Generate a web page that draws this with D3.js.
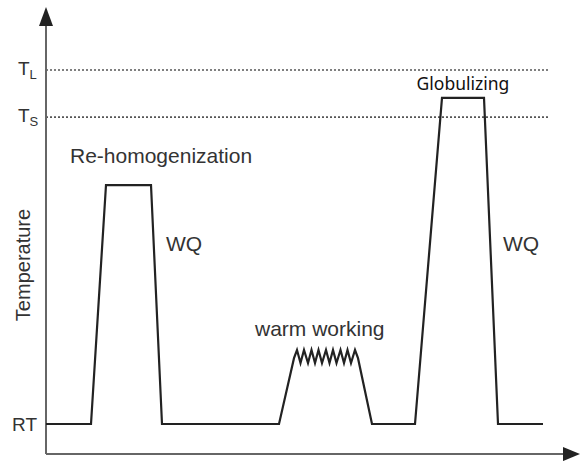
<!DOCTYPE html>
<html>
<head>
<meta charset="utf-8">
<script src="https://cdn.jsdelivr.net/npm/d3@7"></script>
<style>
  body { margin: 0; background: #fff; }
  text { font-family: "Liberation Sans", Arial, sans-serif; fill: #333; }
</style>
</head>
<body>
<div class="chart"></div>
<script>

// temperature levels (RT = 0, TL = 100, arbitrary units)
var levelNames = ["TL", "TS", "RT"];
var levelValues = [100, 86.7, 0];

// heat treatment profile: time (arbitrary units) and temperature
var profileTime = [0, 9, 12, 21, 23.2, 46.6, 49.6,
  50.2, 50.9, 51.6, 52.4, 53.1, 53.8, 54.5, 55.2, 56.0, 56.7, 57.4, 58.1, 58.9, 59.6, 60.3, 61.0, 61.8,
  62.4, 65.2, 73.8, 79.2, 87.6, 90.4, 99.4];
var profileTemp = [0, 0, 67.5, 67.5, 0, 0, 18.6,
  20.9, 17.2, 20.9, 17.2, 20.9, 17.2, 20.9, 17.2, 20.9, 17.2, 20.9, 17.2, 20.9, 17.2, 20.9, 17.2, 20.9,
  18.6, 0, 0, 92.1, 92.1, 0, 0];

// step annotations
var stepLabels = ["Re-homogenization", "WQ", "warm working", "Globulizing", "WQ"];
var stepTime = [4.8, 24, 41.8, 83.4, 91.4];
var stepTemp = [73.7, 48.9, 24.9, 94.4, 48.9];
var stepAnchor = ["start", "start", "start", "middle", "start"];

var width = 580, height = 461;

var x = d3.scaleLinear()
  .domain([0, 100])
  .range([46, 546]);

var y = d3.scaleLinear()
  .domain([0, 100])
  .range([424, 70]);

var xAxisMax = 106.8, yAxisMin = -8.5, yAxisMax = 117.8;

var svg = d3.select(".chart").append("svg")
  .attr("width", width)
  .attr("height", height);

// dotted reference lines for liquidus / solidus
svg.selectAll(".ref")
  .data(levelValues.slice(0, 2))
  .enter().append("line")
    .attr("class", "ref")
    .attr("x1", x(0))
    .attr("x2", x(100.4))
    .attr("y1", function(d) { return y(d); })
    .attr("y2", function(d) { return y(d); })
    .attr("stroke", "#555")
    .attr("stroke-width", 1.6)
    .attr("stroke-dasharray", "2,2");

// axes with arrow heads
svg.append("line")
  .attr("x1", x(0)).attr("x2", x(0))
  .attr("y1", y(yAxisMin)).attr("y2", y(yAxisMax) + 15)
  .attr("stroke", "#666").attr("stroke-width", 2);

svg.append("line")
  .attr("x1", x(0)).attr("x2", x(xAxisMax) - 15)
  .attr("y1", y(yAxisMin)).attr("y2", y(yAxisMin))
  .attr("stroke", "#666").attr("stroke-width", 2);

svg.append("path")
  .attr("d", "M" + x(0) + "," + y(yAxisMax) +
    "L" + (x(0) + 7) + "," + (y(yAxisMax) + 19) +
    "L" + (x(0) - 7) + "," + (y(yAxisMax) + 19) + "Z")
  .attr("fill", "#222");

svg.append("path")
  .attr("d", "M" + x(xAxisMax) + "," + y(yAxisMin) +
    "L" + (x(xAxisMax) - 17) + "," + (y(yAxisMin) - 7) +
    "L" + (x(xAxisMax) - 17) + "," + (y(yAxisMin) + 7) + "Z")
  .attr("fill", "#222");

// level labels on the temperature axis
var levelText = svg.selectAll(".level")
  .data(levelNames)
  .enter().append("text")
    .attr("class", "level")
    .attr("x", function(d) { return d == "RT" ? 12 : 18; })
    .attr("y", function(d, i) { return y(levelValues[i]) + (d == "RT" ? 7 : 5); })
    .style("font-size", "19px");

levelText.append("tspan")
  .text(function(d) { return d.charAt(0); });

levelText.filter(function(d) { return d != "RT"; })
  .append("tspan")
    .attr("dy", 4)
    .style("font-size", "13px")
    .text(function(d) { return d.charAt(1); });

levelText.filter(function(d) { return d == "RT"; })
  .append("tspan")
    .text("T");

// axis title
svg.append("text")
  .attr("transform", "translate(30," + 265 + ") rotate(-90)")
  .attr("text-anchor", "middle")
  .style("font-size", "20px")
  .text("Temperature");

// the profile itself
var line = d3.line()
  .x(function(d) { return x(d); })
  .y(function(d, i) { return y(profileTemp[i]); });

svg.append("path")
  .datum(profileTime)
  .attr("d", line)
  .attr("fill", "none")
  .attr("stroke", "#222")
  .attr("stroke-width", 2.2)
  .attr("stroke-linejoin", "miter");

// step labels
svg.selectAll(".step")
  .data(stepLabels)
  .enter().append("text")
    .attr("class", "step")
    .attr("x", function(d, i) { return x(stepTime[i]); })
    .attr("y", function(d, i) { return y(stepTemp[i]); })
    .attr("text-anchor", function(d, i) { return stepAnchor[i]; })
    .style("font-size", function(d) { return d == "Globulizing" ? "17.5px" : "21px"; })
    .style("font-family", function(d) { return d == "Globulizing" ? "'Noto Sans', sans-serif" : null; })
    .style("fill", function(d) { return d == "Globulizing" ? "#111" : null; })
    .text(function(d) { return d; });

</script>
</body>
</html>
